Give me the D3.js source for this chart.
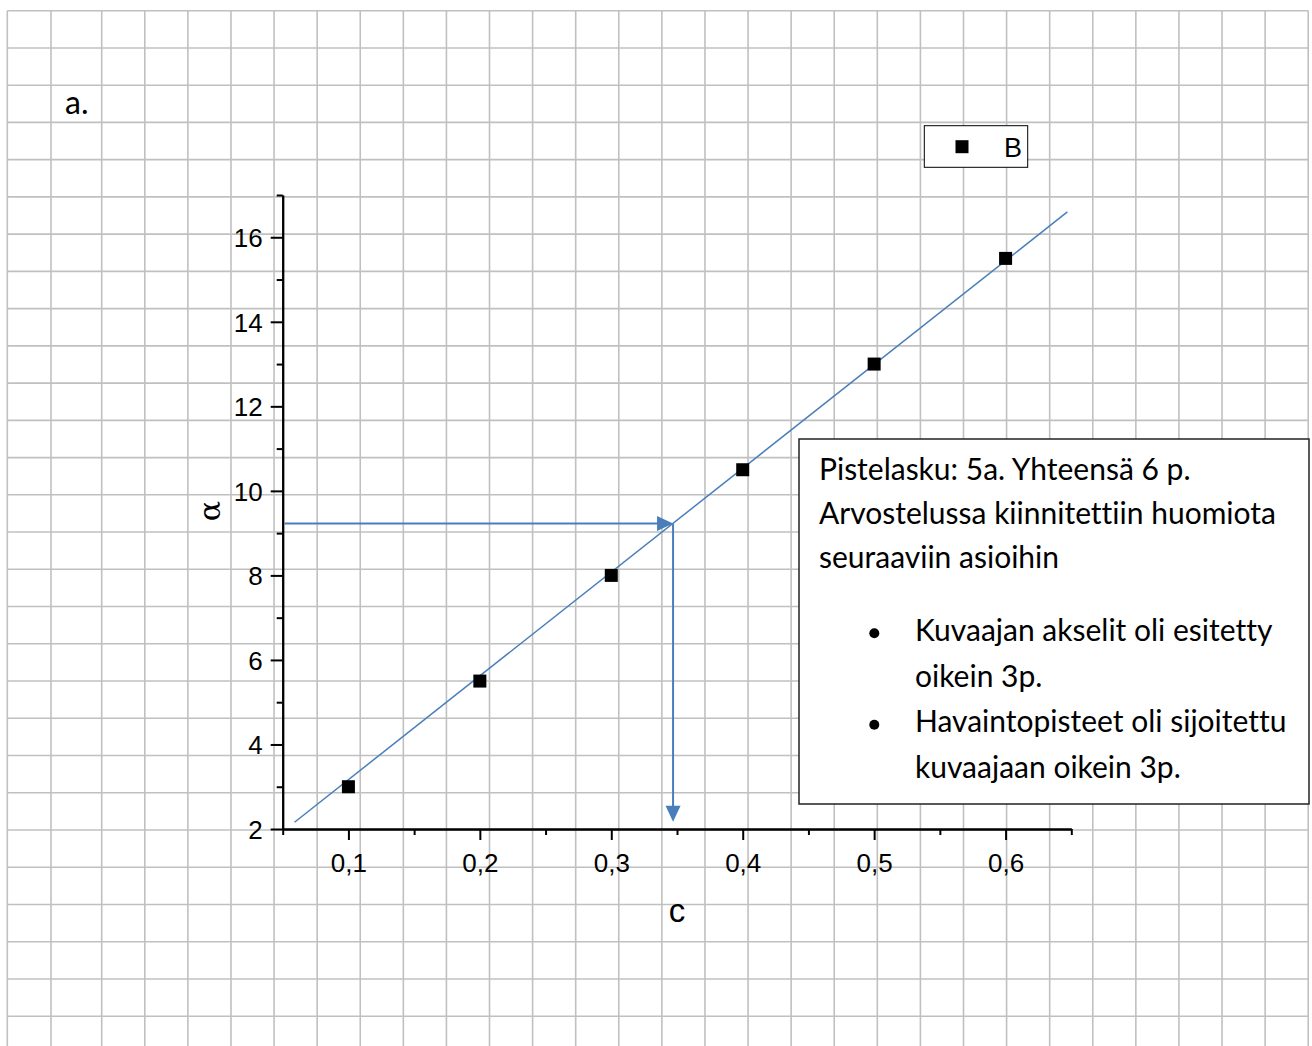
<!DOCTYPE html>
<html>
<head>
<meta charset="utf-8">
<script src="https://cdn.jsdelivr.net/npm/d3@7"></script>
<style>
  html, body { margin: 0; padding: 0; background: #fff; }
  svg { display: block; }
  text { font-variant-ligatures: none; font-feature-settings: "liga" 0; }
</style>
</head>
<body>
<svg id="chart" width="1312" height="1046"></svg>
<script>
// ---- data ----
const cValues = [0.1, 0.2, 0.3, 0.4, 0.5, 0.6];
const alphaValues = [3, 5.5, 8, 10.5, 13, 15.5];
const fitC = [0.059, 0.647];
const fitAlpha = [2.16, 16.6];
const readC = 0.347;
const readAlpha = 9.23;
const xMajorTicks = [0.1, 0.2, 0.3, 0.4, 0.5, 0.6];
const xMinorTicks = [0.05, 0.15, 0.25, 0.35, 0.45, 0.55, 0.65];
const yMajorTicks = [2, 4, 6, 8, 10, 12, 14, 16];
const yMinorTicks = [3, 5, 7, 9, 11, 13, 15, 17];
const xDomain = [0.05, 0.65];
const yDomain = [2, 17];
const legendLabel = "B";
const xTitle = "c";
const yTitle = "α";
const partLabel = "a.";
const boxLines = [
  "Pistelasku: 5a. Yhteensä 6 p.",
  "Arvostelussa kiinnitettiin huomiota",
  "seuraaviin asioihin"
];
const bulletItems = [
  ["Kuvaajan akselit oli esitetty", "oikein 3p."],
  ["Havaintopisteet oli sijoitettu", "kuvaajaan oikein 3p."]
];

// ---- drawing ----
const svg = d3.select("#chart");
const W = 1312, H = 1046;
svg.append("rect").attr("width", W).attr("height", H).attr("fill", "#fff");

// spreadsheet-like background grid
const grid = svg.append("g").attr("stroke", "#c0c0c0").attr("stroke-width", 1.6);
const gx0 = 7.3, gy0 = 10.7, gRight = 1308.3;
const colXs = [gx0, 51];
for (let k = 0; k <= 28; k++) colXs.push(101.7 + k * 43.09);
const rowYs = [];
for (let k = 0; k <= 27; k++) rowYs.push(gy0 + k * 37.24);
grid.selectAll("line.v").data(colXs).join("line")
  .attr("x1", d => d).attr("x2", d => d).attr("y1", gy0).attr("y2", H);
grid.selectAll("line.h").data(rowYs).join("line")
  .attr("class", "h")
  .attr("x1", gx0).attr("x2", gRight).attr("y1", d => d).attr("y2", d => d);

// scales
const x = d3.scaleLinear().domain(xDomain).range([282.7, 1071.3]);
const y = d3.scaleLinear().domain(yDomain).range([829, 195]);

const axisFont = "'Liberation Sans', Arial, sans-serif";
const textFont = "Lato, 'Open Sans', sans-serif";

// fit line
svg.append("line")
  .attr("x1", x(fitC[0])).attr("y1", y(fitAlpha[0]))
  .attr("x2", x(fitC[1])).attr("y2", y(fitAlpha[1]))
  .attr("stroke", "#4a7ebb").attr("stroke-width", 1.5);

// read-off arrows
const arrowColor = "#4a7ebb";
const ah = 16, aw = 7.5;
const hx0 = x(xDomain[0]) + 2, hy = y(readAlpha), hx1 = x(readC);
svg.append("line").attr("x1", hx0).attr("y1", hy).attr("x2", hx1 - ah + 2).attr("y2", hy)
  .attr("stroke", arrowColor).attr("stroke-width", 2);
svg.append("polygon")
  .attr("points", [[hx1, hy], [hx1 - ah, hy - aw], [hx1 - ah, hy + aw]].map(p => p.join(",")).join(" "))
  .attr("fill", arrowColor);
const vy1 = y(2.17);
svg.append("line").attr("x1", hx1).attr("y1", hy).attr("x2", hx1).attr("y2", vy1 - ah + 2)
  .attr("stroke", arrowColor).attr("stroke-width", 2);
svg.append("polygon")
  .attr("points", [[hx1, vy1], [hx1 - aw, vy1 - ah], [hx1 + aw, vy1 - ah]].map(p => p.join(",")).join(" "))
  .attr("fill", arrowColor);

// axes
function styleAxis(g) {
  g.select(".domain").attr("stroke", "#000").attr("stroke-width", 2);
  g.selectAll(".tick line").attr("stroke", "#000").attr("stroke-width", 2);
  g.selectAll("text").attr("fill", "#000").style("font-family", axisFont).style("font-size", "26px");
}
const yAxisMinor = svg.append("g").attr("transform", `translate(${x(xDomain[0])},0)`)
  .call(d3.axisLeft(y).tickValues(yMinorTicks).tickSize(6).tickSizeOuter(0).tickFormat(""));
styleAxis(yAxisMinor);
const yAxis = svg.append("g").attr("transform", `translate(${x(xDomain[0])},0)`)
  .call(d3.axisLeft(y).tickValues(yMajorTicks).tickSize(12).tickSizeOuter(0).tickPadding(8)
    .tickFormat(d3.format("d")));
styleAxis(yAxis);
yAxis.selectAll("text").attr("dy", "0.36em");

const xAxisMinor = svg.append("g").attr("transform", `translate(0,${y(yDomain[0])})`)
  .call(d3.axisBottom(x).tickValues(xMinorTicks).tickSize(6).tickSizeOuter(0).tickFormat(""));
styleAxis(xAxisMinor);
const xAxis = svg.append("g").attr("transform", `translate(0,${y(yDomain[0])})`)
  .call(d3.axisBottom(x).tickValues(xMajorTicks).tickSize(11).tickSizeOuter(0)
    .tickFormat(d => d.toFixed(1).replace(".", ",")));
styleAxis(xAxis);
xAxis.selectAll("text").attr("y", 43).attr("dy", 0);

// axis titles
svg.append("text").attr("x", x(0.35) + 0).attr("y", 922)
  .attr("text-anchor", "middle").style("font-family", axisFont).style("font-size", "33px")
  .text(xTitle);
svg.append("text").attr("transform", "translate(220,511) rotate(-90)")
  .attr("text-anchor", "middle").style("font-family", "'DejaVu Serif', serif").style("font-size", "30px")
  .text(yTitle);

// data markers
const ms = 13;
svg.append("g").selectAll("rect").data(cValues).join("rect")
  .attr("x", (d) => x(d) - ms / 2)
  .attr("y", (d, i) => y(alphaValues[i]) - ms / 2)
  .attr("width", ms).attr("height", ms).attr("fill", "#000");

// legend
const lg = svg.append("g");
lg.append("rect").attr("x", 924.3).attr("y", 125.7).attr("width", 103.4).attr("height", 41.6)
  .attr("fill", "#fff").attr("stroke", "#000").attr("stroke-width", 1);
lg.append("rect").attr("x", 962 - 6.5).attr("y", 146.7 - 6.5).attr("width", 13).attr("height", 13).attr("fill", "#000");
lg.append("text").attr("x", 1004).attr("y", 157).style("font-family", axisFont).style("font-size", "27px")
  .text(legendLabel);

// part label
svg.append("text").attr("x", 65).attr("y", 114).style("font-family", textFont).style("font-size", "32px")
  .attr("fill", "#000").text(partLabel);

// text box
const tb = svg.append("g");
tb.append("rect").attr("x", 799).attr("y", 439).attr("width", 510).attr("height", 365)
  .attr("fill", "#fff").attr("stroke", "#222").attr("stroke-width", 1.5);
const lineBaselines = [480, 524, 568];
tb.selectAll("text.main").data(boxLines).join("text")
  .attr("class", "main")
  .attr("x", 819).attr("y", (d, i) => lineBaselines[i])
  .style("font-family", textFont).style("font-size", "30px").attr("fill", "#000")
  .text(d => d);
const bulletBaselines = [[640.7, 686.7], [732.3, 778.3]];
bulletItems.forEach((item, i) => {
  tb.append("circle").attr("cx", 874.3).attr("cy", bulletBaselines[i][0] - 7.5).attr("r", 5).attr("fill", "#000");
  item.forEach((line, j) => {
    tb.append("text").attr("x", 915).attr("y", bulletBaselines[i][j])
      .style("font-family", textFont).style("font-size", "30px").attr("fill", "#000")
      .text(line);
  });
});
</script>
</body>
</html>
